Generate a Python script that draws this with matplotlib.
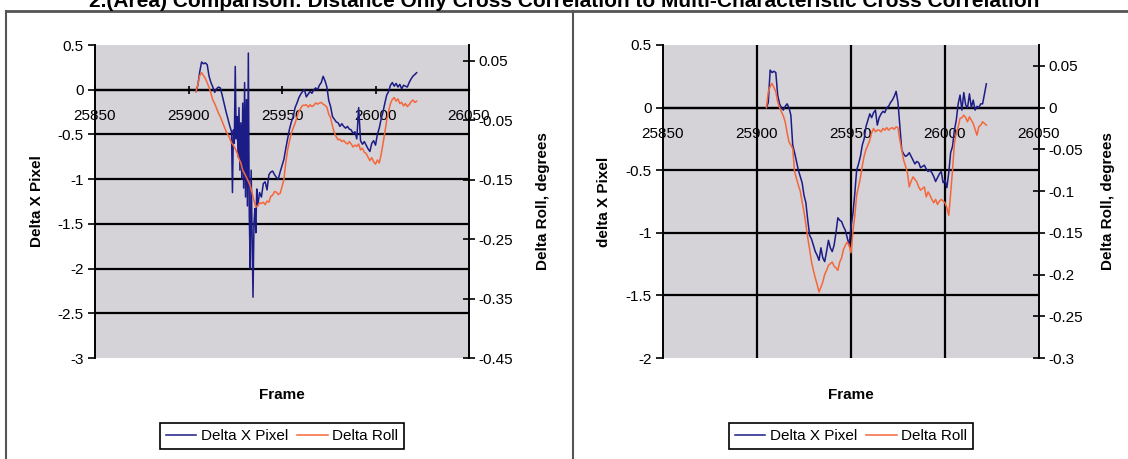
import matplotlib
matplotlib.use("Agg")
import matplotlib.pyplot as plt
from matplotlib.lines import Line2D
from matplotlib.ticker import FuncFormatter

plt.rcParams['font.family'] = ['Liberation Sans', 'DejaVu Sans']
plt.rcParams['axes.unicode_minus'] = False

TITLE = "2.(Area) Comparison: Distance Only Cross Correlation to Multi-Characteristic Cross Correlation"

# ---- left chart: distance only ----
left_frames = [
    25904, 25905, 25906, 25907, 25908, 25909, 25910, 25911, 25912, 25913,
    25914, 25915, 25916, 25917, 25918, 25919, 25920, 25921, 25922, 25923,
    25923.5, 25924, 25924.5, 25925, 25925.5, 25926, 25926.5, 25927, 25927.5, 25928,
    25928.5, 25929, 25929.5, 25930, 25930.5, 25931, 25931.5, 25932, 25932.5, 25933,
    25933.5, 25934, 25934.5, 25935, 25935.5, 25936, 25936.5, 25937, 25938, 25939,
    25940, 25941, 25942, 25943, 25944, 25945, 25946, 25947, 25948, 25949,
    25950, 25951, 25952, 25953, 25954, 25955, 25956, 25957, 25958, 25959,
    25960, 25961, 25962, 25963, 25964, 25965, 25966, 25967, 25968, 25969,
    25970, 25971, 25972, 25973, 25974, 25975, 25976, 25977, 25978, 25979,
    25980, 25981, 25982, 25983, 25984, 25985, 25986, 25987, 25988, 25989,
    25990, 25991, 25992, 25993, 25994, 25995, 25996, 25997, 25998, 25999,
    26000, 26001, 26002, 26003, 26004, 26005, 26006, 26007, 26008, 26009,
    26010, 26011, 26012, 26013, 26014, 26015, 26016, 26017, 26018, 26019,
    26020, 26021, 26022]
left_pixel = [
    -0.02, 0.05, 0.2, 0.31, 0.29, 0.30, 0.28, 0.15, 0.08, 0.03,
    -0.03, 0.01, 0.03, 0.02, -0.06, -0.15, -0.24, -0.32, -0.40, -0.47,
    -1.15, -0.45, -0.6, 0.26, -0.55, -0.3, -0.75, -0.2, -0.9, -0.37,
    -1.0, -0.15, -1.1, 0.08, -1.2, -0.11, -1.3, 0.41, -1.4, -2.0,
    -0.9, -1.63, -2.32, -1.5, -1.33, -1.6, -1.11, -1.3, -1.15, -1.2,
    -1.05, -1.03, -1.12, -0.95, -0.92, -0.91, -0.95, -0.98, -1.0, -0.92,
    -0.85, -0.78, -0.66, -0.55, -0.44, -0.36, -0.30, -0.2, -0.15, -0.09,
    -0.05, -0.02, 0.0, -0.08, -0.05, -0.02, -0.04, 0.0, 0.02, 0.0,
    0.05, 0.08, 0.15, 0.1, 0.03, -0.12, -0.19, -0.3, -0.33, -0.36,
    -0.37, -0.41, -0.38, -0.41, -0.43, -0.41, -0.44, -0.45, -0.49, -0.47,
    -0.55, -0.2, -0.57, -0.61, -0.58, -0.62, -0.66, -0.69, -0.6, -0.57,
    -0.62, -0.5, -0.43, -0.33, -0.25, -0.15, -0.06, -0.02, 0.05, 0.08,
    0.04, 0.07, 0.03, 0.06, 0.01, 0.05, 0.04, 0.03, 0.08, 0.12,
    0.15, 0.17, 0.19]
left_roll_frames = list(range(25904, 26023))
left_roll = [
    -0.002, 0.01, 0.025, 0.03, 0.025, 0.02, 0.013, 0.005, -0.005, -0.016,
    -0.022, -0.03, -0.038, -0.044, -0.052, -0.06, -0.068, -0.074, -0.08, -0.088,
    -0.092, -0.098, -0.105, -0.115, -0.122, -0.134, -0.14, -0.146, -0.153, -0.16,
    -0.172, -0.185, -0.196, -0.194, -0.189, -0.19, -0.188, -0.192, -0.186, -0.188,
    -0.178, -0.176, -0.17, -0.171, -0.175, -0.173, -0.162, -0.15, -0.122, -0.1,
    -0.085, -0.072, -0.063, -0.055, -0.045, -0.035, -0.03, -0.025, -0.025, -0.024,
    -0.028, -0.024, -0.027, -0.025, -0.021, -0.023, -0.021, -0.02, -0.023, -0.025,
    -0.028, -0.04, -0.046, -0.06, -0.071, -0.078, -0.083, -0.082, -0.086, -0.084,
    -0.088, -0.09, -0.086, -0.09, -0.095, -0.092, -0.094, -0.09, -0.1, -0.097,
    -0.104, -0.106, -0.112, -0.118, -0.113, -0.12, -0.124, -0.117, -0.122, -0.108,
    -0.09, -0.07, -0.05, -0.035, -0.022, -0.015, -0.012, -0.018, -0.014, -0.022,
    -0.02, -0.026, -0.022, -0.027, -0.024, -0.019, -0.016, -0.02, -0.018]

# ---- right chart: multi-characteristic ----
right_frames = list(range(25905, 26023))
right_pixel = [
    0.0, 0.04, 0.3, 0.28, 0.29, 0.28, 0.1, 0.03, 0.0, -0.02,
    0.01, 0.03, 0.0, -0.06, -0.3, -0.36, -0.43, -0.5, -0.55, -0.6,
    -0.7, -0.76, -0.9, -1.02, -1.05, -1.1, -1.15, -1.18, -1.22, -1.12,
    -1.2, -1.23, -1.15, -1.06, -1.12, -1.15, -1.1, -1.0, -0.88, -0.9,
    -0.91, -0.95, -0.98, -1.04, -1.1, -0.95, -0.85, -0.69, -0.5, -0.45,
    -0.39, -0.3, -0.25, -0.15, -0.1, -0.05, -0.08, -0.04, -0.02, -0.14,
    -0.08, -0.05, -0.03, -0.04, 0.0, 0.01, 0.04, 0.06, 0.09, 0.13,
    0.04, -0.15, -0.34, -0.37, -0.39, -0.38, -0.36, -0.39, -0.42, -0.45,
    -0.43, -0.44, -0.48, -0.47, -0.46, -0.49, -0.51, -0.5, -0.52, -0.55,
    -0.59, -0.56, -0.53, -0.51, -0.6, -0.58, -0.64, -0.52, -0.36, -0.31,
    -0.18, -0.1, 0.03, 0.1, -0.02, 0.12, 0.02, 0.0, 0.11, 0.0,
    0.06, -0.02, 0.01, 0.0, 0.03, 0.03, 0.11, 0.19]
right_roll = [
    0.0, 0.019, 0.025, 0.029, 0.024, 0.019, 0.007, 0.0, -0.005, -0.01,
    -0.017, -0.03, -0.041, -0.045, -0.049, -0.077, -0.085, -0.093, -0.1, -0.113,
    -0.125, -0.14, -0.156, -0.17, -0.185, -0.195, -0.204, -0.212, -0.221, -0.215,
    -0.209, -0.2, -0.195, -0.189, -0.187, -0.185, -0.19, -0.192, -0.195, -0.185,
    -0.18, -0.17, -0.165, -0.161, -0.165, -0.174, -0.149, -0.13, -0.105, -0.095,
    -0.084, -0.07, -0.058, -0.05, -0.045, -0.039, -0.03, -0.025, -0.029, -0.027,
    -0.027, -0.029, -0.025, -0.027, -0.024, -0.027, -0.025, -0.024, -0.026, -0.023,
    -0.024, -0.039, -0.051, -0.063, -0.07, -0.078, -0.095, -0.088, -0.083, -0.086,
    -0.089, -0.095, -0.099, -0.097, -0.095, -0.107, -0.101, -0.105, -0.11, -0.114,
    -0.11, -0.116, -0.112, -0.11, -0.112, -0.114, -0.12, -0.129, -0.103, -0.075,
    -0.043, -0.03, -0.023, -0.013, -0.012, -0.009, -0.012, -0.017, -0.011, -0.015,
    -0.019, -0.026, -0.033, -0.023, -0.021, -0.017, -0.019, -0.021]

x_ticks = [25850, 25900, 25950, 26000, 26050]
left_yticks = [0.5, 0, -0.5, -1, -1.5, -2, -2.5, -3]
left_roll_ticks = [0.05, -0.05, -0.15, -0.25, -0.35, -0.45]
right_yticks = [0.5, 0, -0.5, -1, -1.5, -2]
right_roll_ticks = [0.05, 0, -0.05, -0.1, -0.15, -0.2, -0.25, -0.3]

BLUE = '#1c1c86'
ORANGE = '#f5673a'
PLOT_BG = '#d5d2d8'
W, H = 1128, 459
FS = 11

fmt = FuncFormatter(lambda v, p: f'{v:g}')


def make_chart(rect, pix_f, pix, roll_f, roll, yticks, rticks, ylim, rlim,
               ylabel, vgrid, rlabel_x):
    ax = fig.add_axes(rect)
    ax.set_facecolor(PLOT_BG)
    for k in ['top', 'right']:
        ax.spines[k].set_visible(False)
    ax.spines['bottom'].set_position(('data', 0))
    ax.spines['bottom'].set_linewidth(1.6)
    ax.spines['left'].set_linewidth(1.4)
    ax.set_xlim(25850, 26050)
    ax.set_ylim(*ylim)
    ax.set_xticks(x_ticks)
    ax.set_yticks(yticks)
    ax.yaxis.set_major_formatter(fmt)
    ax.tick_params(axis='x', direction='inout', length=6, width=1.2, pad=11,
                   labelsize=FS)
    ax.tick_params(axis='y', direction='out', length=5, width=1.2, pad=3,
                   labelsize=FS)
    for v in yticks:
        if ylim[0] < v < ylim[1]:
            ax.axhline(v, color='black', lw=1.6, zorder=1)
    for v in vgrid:
        ax.axvline(v, color='black', lw=1.6, zorder=1)
    l1, = ax.plot(pix_f, pix, color=BLUE, lw=1.1, zorder=3)
    ax.set_xlabel('Frame', fontweight='bold', fontsize=FS)
    ax.xaxis.set_label_coords(0.5, -0.095)
    ax.set_ylabel(ylabel, fontweight='bold', fontsize=FS)
    ax.yaxis.set_label_coords(-0.137, 0.5)

    ax2 = ax.twinx()
    for k in ['top', 'left', 'bottom']:
        ax2.spines[k].set_visible(False)
    ax2.spines['right'].set_linewidth(1.4)
    ax2.set_ylim(*rlim)
    ax2.set_yticks(rticks)
    ax2.yaxis.set_major_formatter(fmt)
    ax2.tick_params(axis='y', direction='inout', length=8, width=1.2, pad=3,
                    labelsize=FS)
    l2, = ax2.plot(roll_f, roll, color=ORANGE, lw=1.1)
    ax2.set_ylabel('Delta Roll, degrees', fontweight='bold', fontsize=FS)
    ax2.yaxis.set_label_coords(rlabel_x, 0.5)

    leg = ax.legend([l1, l2], ['Delta X Pixel', 'Delta Roll'], loc='center',
                    bbox_to_anchor=(0.5, (358 - 436) / 313), ncol=2,
                    fontsize=FS, frameon=True, fancybox=False,
                    edgecolor='black', framealpha=1, handlelength=2.0,
                    handletextpad=0.3, columnspacing=0.6, borderpad=0.4)
    leg.get_frame().set_linewidth(1.2)
    return ax, ax2


fig = plt.figure(figsize=(W / 100, H / 100), dpi=100)
fig.patch.set_facecolor('white')

bottom = 1 - 358 / H
height = 313 / H
make_chart([95 / W, bottom, 374 / W, height], left_frames, left_pixel,
           left_roll_frames, left_roll, left_yticks, left_roll_ticks,
           (-3, 0.5), (-0.45, 0.0765), 'Delta X Pixel', [], 1.18)
make_chart([663 / W, bottom, 376 / W, height], right_frames, right_pixel,
           right_frames, right_roll, right_yticks, right_roll_ticks,
           (-2, 0.5), (-0.3, 0.075), 'delta X Pixel',
           [25900, 25950, 26000], 1.165)

# panel borders
fig.add_artist(Line2D([6 / W, 1], [1 - 11 / H, 1 - 11 / H], color='#555555',
                      lw=2, transform=fig.transFigure))
fig.add_artist(Line2D([6 / W, 6 / W], [0, 1 - 11 / H], color='#555555',
                      lw=1.5, transform=fig.transFigure))
fig.add_artist(Line2D([573 / W, 573 / W], [0, 1 - 11 / H], color='#555555',
                      lw=1.5, transform=fig.transFigure))

fig.text(0.5, 1 - 7 / H, TITLE, ha='center', va='baseline', fontsize=15,
         fontweight='bold')

fig.savefig('out.png', dpi=100)
